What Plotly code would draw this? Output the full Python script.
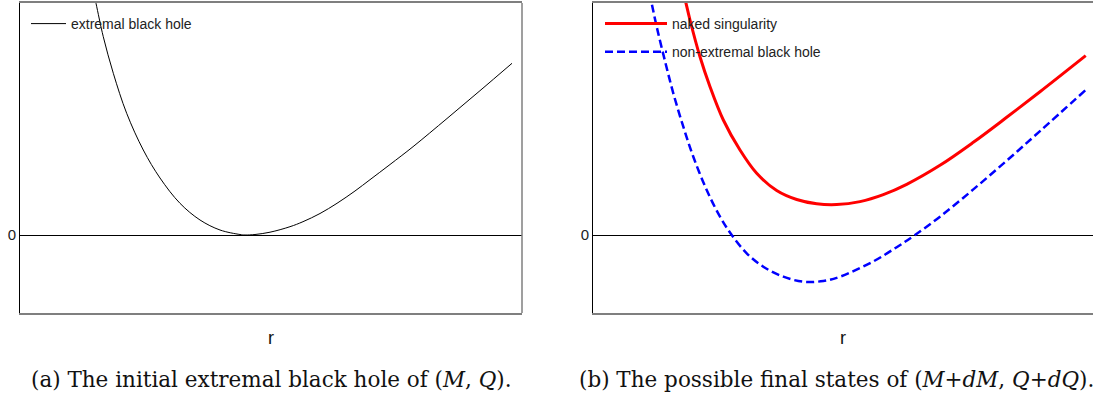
import plotly.graph_objects as go

# ---- data (arbitrary units: r, f(r)) ----
extremal_r = [1.454, 1.514, 1.659, 1.859, 2.125, 2.456, 2.789, 3.187, 3.586, 3.984, 4.382,
              4.482, 4.681, 4.980, 5.378, 5.637, 5.976, 6.315, 6.673, 6.972, 7.371, 7.829,
              8.506, 9.163, 9.801]
extremal_f = [2.455, 2.317, 1.983, 1.617, 1.217, 0.850, 0.570, 0.317, 0.150, 0.050, 0.005,
              0.000, 0.005, 0.028, 0.083, 0.133, 0.215, 0.317, 0.440, 0.553, 0.705, 0.883,
              1.165, 1.443, 1.717]

naked_r = [1.803, 1.853, 1.932, 2.131, 2.331, 2.596, 2.928, 3.261, 3.659, 4.058, 4.456,
           4.855, 5.319, 5.783, 6.249, 6.912, 7.576, 8.241, 8.904, 9.815]
naked_f = [2.425, 2.317, 2.150, 1.783, 1.483, 1.150, 0.850, 0.617, 0.445, 0.355, 0.312,
           0.304, 0.334, 0.404, 0.507, 0.697, 0.927, 1.177, 1.433, 1.794]

nonext_r = [1.125, 1.169, 1.269, 1.434, 1.600, 1.799, 1.998, 2.265, 2.530, 2.763, 3.062,
            3.392, 3.791, 4.189, 4.588, 4.920, 5.584, 6.050, 6.414, 6.912, 7.576, 8.241,
            8.904, 9.815]
nonext_f = [2.420, 2.317, 2.083, 1.740, 1.417, 1.083, 0.783, 0.450, 0.183, 0.000, -0.183,
            -0.317, -0.417, -0.467, -0.460, -0.417, -0.264, -0.122, 0.000, 0.183, 0.456,
            0.743, 1.039, 1.450]

y_tick_vals = [0]
y_tick_text = ["0"]
x_title = "r"
caption_a = "(a) The initial extremal black hole of (<i>M</i>, <i>Q</i>)."
caption_b = "(b) The possible final states of (<i>M</i>+<i>dM</i>, <i>Q</i>+<i>dQ</i>)."

W, H = 1093, 396
def fx(px):
    return px / W
def fy(py):
    return 1 - py / H

SANS = "Liberation Sans, Arial, sans-serif"
SERIF = "DejaVu Serif, serif"
GRAY = "#7f7f7f"

fig = go.Figure()
fig.add_trace(go.Scatter(x=extremal_r, y=extremal_f, mode="lines", name="extremal black hole",
                         line=dict(color="black", width=1, shape="spline"),
                         xaxis="x", yaxis="y", legend="legend"))
fig.add_trace(go.Scatter(x=naked_r, y=naked_f, mode="lines", name="naked singularity",
                         line=dict(color="#ff0000", width=3, shape="spline"),
                         xaxis="x2", yaxis="y2", legend="legend2", legendgroup="a"))
fig.add_trace(go.Scatter(x=nonext_r, y=nonext_f, mode="lines", name="non-extremal black hole",
                         line=dict(color="#0000ff", width=2.5, dash="8px,4px", shape="spline"),
                         xaxis="x2", yaxis="y2", legend="legend2", legendgroup="b"))

ydom = [fy(313), fy(3)]
common_x = dict(range=[0, 10], showline=True, linecolor=GRAY, linewidth=1.5, mirror=True,
                showticklabels=False, ticks="", showgrid=False, zeroline=False,
                title=dict(text=x_title, font=dict(family=SANS, size=18, color="#111"), standoff=18))
common_y = dict(range=[-0.78, 2.32], tickvals=y_tick_vals, ticktext=y_tick_text, ticks="",
                showline=True, linecolor="black", linewidth=1, mirror=False,
                zeroline=True, zerolinecolor="black", zerolinewidth=1, showgrid=False,
                tickfont=dict(family=SANS, size=15, color="#222"), domain=ydom)

fig.update_layout(
    width=W, height=H, margin=dict(l=0, r=0, t=0, b=0),
    plot_bgcolor="white", paper_bgcolor="white",
    xaxis=dict(domain=[fx(20), fx(522)], anchor="y", **common_x),
    yaxis=dict(anchor="x", **common_y),
    xaxis2=dict(domain=[fx(593), 1.0], anchor="y2", **{**common_x, "range": [0, 500 / 50.2]}),
    yaxis2=dict(anchor="x2", **common_y),
    legend=dict(x=fx(26), y=fy(8), xanchor="left", yanchor="top", bgcolor="rgba(0,0,0,0)",
                font=dict(family=SANS, size=14, color="#222"), itemwidth=35),
    legend2=dict(x=fx(600), y=fy(8), xanchor="left", yanchor="top", bgcolor="rgba(0,0,0,0)",
                 font=dict(family=SANS, size=14, color="#222"), traceorder="grouped",
                 tracegroupgap=7, itemwidth=62),
    shapes=[dict(type="line", xref="x domain", yref="y domain", x0=1, x1=1, y0=0, y1=1,
                 line=dict(color=GRAY, width=1.5))],
    annotations=[
        dict(text=caption_a, xref="paper", yref="paper", x=fx(271), y=fy(379), showarrow=False,
             xanchor="center", yanchor="middle", font=dict(family=SERIF, size=21.5, color="#111")),
        dict(text=caption_b, xref="paper", yref="paper", x=fx(836), y=fy(379), showarrow=False,
             xanchor="center", yanchor="middle", font=dict(family=SERIF, size=21.5, color="#111")),
    ],
    showlegend=True,
)

fig.write_html("out.html", config={"displayModeBar": False},
               post_script="document.body.style.margin='0px';document.body.style.overflow='hidden';")
